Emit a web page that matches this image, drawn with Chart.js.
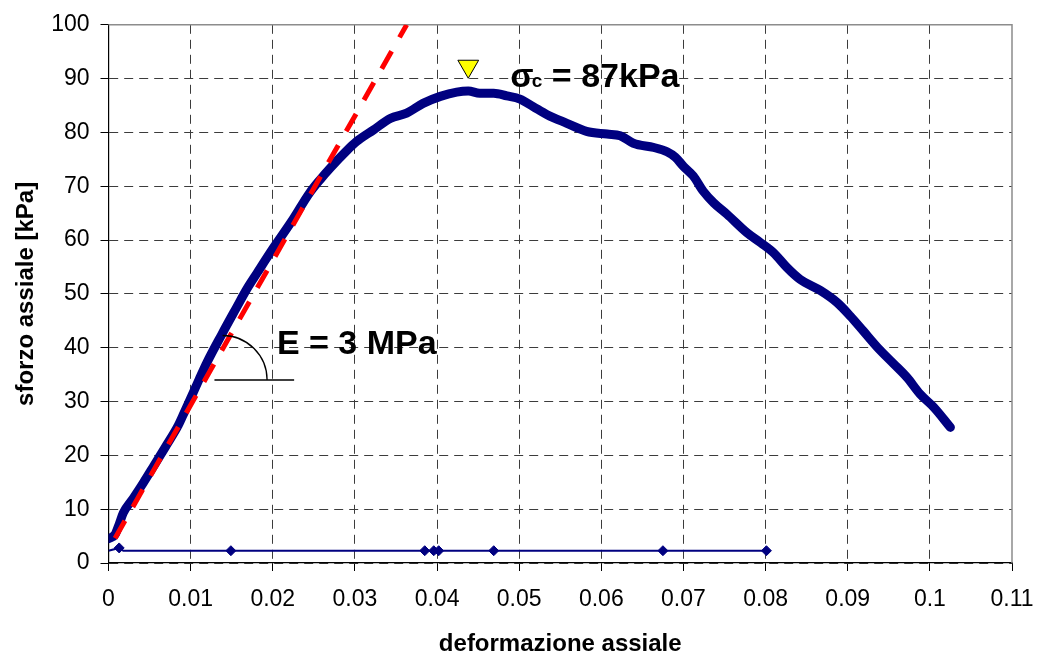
<!DOCTYPE html>
<html>
<head>
<meta charset="utf-8">
<script src="https://cdn.jsdelivr.net/npm/chart.js@4/dist/chart.umd.min.js"></script>
<style>
  html, body { margin: 0; padding: 0; background: #ffffff; }
  #wrap { width: 1038px; height: 655px; }
</style>
</head>
<body>
<div id="wrap"><canvas id="chart" width="1038" height="655"></canvas></div>
<script>
// Stress-strain curve of the unconfined compression test
const strain = [0.0000, 0.0008, 0.0013, 0.0018, 0.0030, 0.0042, 0.0055, 0.0069, 0.0085, 0.0092,
  0.0100, 0.0110, 0.0120, 0.0138, 0.0156, 0.0168, 0.0181, 0.0201, 0.0223, 0.0245,
  0.0258, 0.0270, 0.0290, 0.0302, 0.0323, 0.0343, 0.0363, 0.0383, 0.0404, 0.0424,
  0.0438, 0.0452, 0.0469, 0.0485, 0.0501, 0.0517, 0.0534, 0.0558, 0.0582, 0.0607,
  0.0623, 0.0639, 0.0664, 0.0680, 0.0690, 0.0700, 0.0712, 0.0724, 0.0737, 0.0753,
  0.0777, 0.0794, 0.0810, 0.0826, 0.0842, 0.0867, 0.0887, 0.0903, 0.0919, 0.0936,
  0.0956, 0.0972, 0.0988, 0.1005, 0.1025];
const stress = [4.5, 5.3, 7.2, 9.3, 12.0, 14.8, 18.0, 21.5, 25.6, 27.9,
  30.6, 34.0, 37.3, 42.5, 47.5, 50.8, 53.9, 58.6, 63.5, 68.8,
  71.3, 73.4, 76.6, 78.3, 80.5, 82.6, 83.6, 85.4, 86.7, 87.5,
  87.7, 87.3, 87.3, 86.8, 86.2, 84.8, 83.3, 81.7, 80.2, 79.7,
  79.4, 78.0, 77.2, 76.4, 75.4, 73.7, 71.9, 69.1, 66.9, 64.8,
  61.4, 59.5, 57.6, 54.9, 52.7, 50.6, 48.4, 45.9, 43.1, 40.1,
  37.0, 34.5, 31.4, 28.9, 25.2];

// Initial tangent (E = 3 MPa)
const tangentStrain = [0.0008, 0.0363];
const tangentStress = [4.6, 100];

// Baseline readings
const baseStrain = [0.0000, 0.0013, 0.0018, 0.0149, 0.0385, 0.0396, 0.0402, 0.0469, 0.0675, 0.0801];
const baseStress = [2.28, 2.8, 2.28, 2.28, 2.28, 2.28, 2.28, 2.28, 2.28, 2.28];
const baseMarked = [false, true, false, true, true, true, true, true, true, true];

// Peak marker (σc = 87 kPa)
const peakStrain = [0.0438];
const peakMarkerStress = [92.3];

const xTickLabels = ['0', '0.01', '0.02', '0.03', '0.04', '0.05', '0.06', '0.07', '0.08', '0.09', '0.1', '0.11'];
const yTickLabels = ['0', '10', '20', '30', '40', '50', '60', '70', '80', '90', '100'];

const FONT = "'Liberation Sans', Arial, Helvetica, sans-serif";
const toPoints = (xs, ys) => xs.map((v, i) => ({ x: v, y: ys[i] }));

const decorations = {
  id: 'decorations',
  beforeDatasetsDraw(chart) {
    const { ctx, chartArea: a } = chart;
    ctx.save();
    ctx.strokeStyle = '#8c8c8c';
    ctx.lineWidth = 1.5;
    ctx.beginPath();
    ctx.moveTo(a.left, a.top);
    ctx.lineTo(a.right, a.top);
    ctx.lineTo(a.right, a.bottom);
    ctx.stroke();
    ctx.restore();
  },
  afterDatasetsDraw(chart) {
    const { ctx, scales: { x, y } } = chart;
    ctx.save();
    // angle symbol for the modulus
    const cx = x.getPixelForValue(0.01389);
    const cy = y.getPixelForValue(34.0);
    const r = x.getPixelForValue(0.01389 + 0.00542) - cx;
    ctx.strokeStyle = '#000';
    ctx.lineWidth = 1.3;
    ctx.beginPath();
    ctx.moveTo(x.getPixelForValue(0.0129), cy);
    ctx.lineTo(x.getPixelForValue(0.0226), cy);
    ctx.stroke();
    ctx.beginPath();
    ctx.arc(cx, cy, r, -Math.PI / 2, 0);
    ctx.stroke();

    ctx.fillStyle = '#000';
    ctx.textBaseline = 'alphabetic';
    ctx.textAlign = 'left';
    ctx.font = 'bold 34px ' + FONT;
    ctx.fillText('E = 3 MPa', x.getPixelForValue(0.0205), y.getPixelForValue(38.9));

    // peak strength label
    const px = x.getPixelForValue(0.0489);
    const py = y.getPixelForValue(88.5);
    ctx.font = 'bold 34px ' + FONT;
    ctx.fillText('σ', px, py);
    ctx.font = 'bold 19px ' + FONT;
    ctx.fillText('c', px + 21.5, py);
    ctx.font = 'bold 34px ' + FONT;
    ctx.fillText('= 87kPa', px + 41.7, py);
    ctx.restore();
  }
};

new Chart(document.getElementById('chart'), {
  type: 'scatter',
  data: {
    datasets: [
      {
        data: toPoints(peakStrain, peakMarkerStress),
        pointStyle: 'triangle',
        rotation: 180,
        pointRadius: 12,
        pointHoverRadius: 12,
        backgroundColor: '#ffff00',
        borderColor: '#000000',
        borderWidth: 1
      },
      {
        data: toPoints(tangentStrain, tangentStress),
        showLine: true,
        borderColor: '#ff0000',
        borderWidth: 5,
        borderDash: [20, 16],
        pointRadius: 0
      },
      {
        data: toPoints(strain, stress),
        showLine: true,
        borderColor: '#000080',
        borderWidth: 9,
        borderJoinStyle: 'round',
        borderCapStyle: 'round',
        cubicInterpolationMode: 'monotone',
        pointRadius: 0
      },
      {
        data: toPoints(baseStrain, baseStress),
        showLine: true,
        borderColor: '#000080',
        borderWidth: 2,
        pointStyle: 'rectRot',
        pointRadius: baseMarked.map((m) => (m ? 5 : 0)),
        backgroundColor: '#000080',
        pointBorderColor: '#000080',
        pointBorderWidth: 1
      }
    ]
  },
  options: {
    responsive: false,
    animation: false,
    events: [],
    layout: { padding: { left: 0, right: 26, top: 23, bottom: 0 } },
    plugins: {
      legend: { display: false },
      tooltip: { enabled: false }
    },
    scales: {
      x: {
        type: 'linear',
        min: 0,
        max: 0.11,
        afterFit(scale) {
          scale.height = 92;
          scale.paddingLeft = 0;
          scale.paddingRight = 0;
        },
        ticks: {
          stepSize: 0.01,
          padding: 15,
          color: '#000',
          font: { family: FONT, size: 23 },
          maxRotation: 0,
          autoSkip: false,
          callback: (v, i) => xTickLabels[i]
        },
        grid: {
          color: (c) => (c.tick && c.tick.value > 0.1099 ? 'rgba(0,0,0,0)' : '#3c3c3c'),
          lineWidth: 1,
          tickLength: 8,
          tickColor: '#000',
          tickBorderDash: []
        },
        border: { display: true, color: '#000', width: 1.2, dash: [9, 6] },
        title: {
          display: true,
          text: 'deformazione assiale',
          color: '#000',
          font: { family: FONT, size: 24, weight: 'bold', lineHeight: 0.85 },
          padding: 0
        }
      },
      y: {
        type: 'linear',
        min: 0,
        max: 100,
        afterFit(scale) { scale.width = 108.5; },
        ticks: {
          stepSize: 10,
          padding: 11,
          color: '#000',
          font: { family: FONT, size: 23 },
          callback: (v, i) => yTickLabels[i]
        },
        grid: {
          color: (c) => (c.tick && c.tick.value > 99.9 ? 'rgba(0,0,0,0)' : '#3c3c3c'),
          lineWidth: 1,
          tickLength: 8,
          tickColor: '#000',
          tickBorderDash: []
        },
        border: { display: true, color: '#000', width: 1.2, dash: [9, 6] },
        title: {
          display: true,
          text: 'sforzo assiale [kPa]',
          color: '#000',
          font: { family: FONT, size: 24, weight: 'bold', lineHeight: 1.2 },
          padding: { top: 11.5, bottom: 0 }
        }
      }
    }
  },
  plugins: [decorations]
});
</script>
</body>
</html>
